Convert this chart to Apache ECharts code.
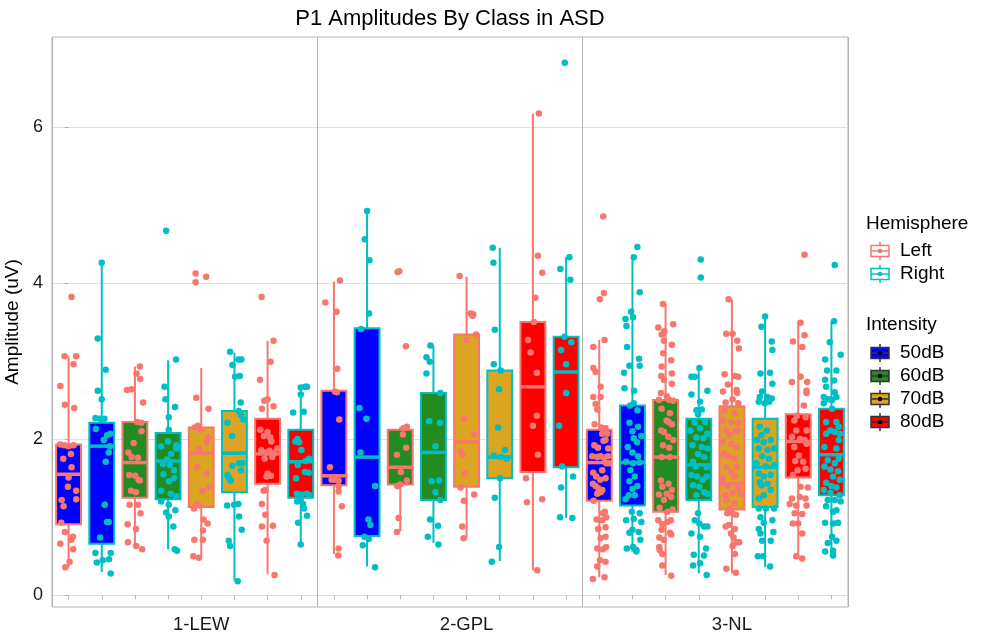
<!DOCTYPE html>
<html lang="en">
<head>
    <meta charset="UTF-8">
    <title>P1 Amplitudes By Class in ASD</title>
    <script type="text/javascript" src="https://cdn.jsdelivr.net/npm/echarts@6/dist/echarts.min.js"></script>
    <style>
        html, body { margin: 0; padding: 0; background: #fff; }
    </style>
</head>
<body>
<div id="box-p1" style="width: 984px;height: 632px"></div>
<script type="text/javascript">
    var classes = ['1-LEW', '2-GPL', '3-NL'];
    var intensities = ['50dB', '60dB', '70dB', '80dB'];
    var hemispheres = ['Left', 'Right'];
    var yTickValues = [0, 2, 4, 6];

    // box stats per class: [lower whisker, Q1, median, Q3, upper whisker]
    // order: 50dB Left, 50dB Right, 60dB Left, 60dB Right, 70dB ..., 80dB ...
    var statsLEW = [
        [0.36, 0.91, 1.55, 1.93, 3.06], [0.30, 0.66, 1.91, 2.21, 4.26],
        [0.61, 1.25, 1.70, 2.22, 2.93], [0.59, 1.23, 1.72, 2.08, 3.01],
        [0.48, 1.13, 1.82, 2.15, 2.91], [0.19, 1.32, 1.82, 2.36, 3.11],
        [0.27, 1.43, 1.81, 2.26, 3.26], [0.65, 1.25, 1.71, 2.12, 2.66]
    ];
    var statsGPL = [
        [0.53, 1.41, 1.53, 2.62, 4.02], [0.37, 0.76, 1.77, 3.42, 4.92],
        [0.82, 1.42, 1.64, 2.12, 2.16], [0.67, 1.22, 1.83, 2.59, 3.20],
        [0.74, 1.39, 1.96, 3.34, 4.08], [0.44, 1.50, 1.77, 2.88, 4.45],
        [0.32, 1.58, 2.67, 3.50, 6.17], [0.99, 1.64, 2.86, 3.31, 4.33]
    ];
    var statsNL = [
        [0.23, 1.21, 1.70, 2.12, 3.27], [0.56, 1.15, 1.70, 2.43, 4.33],
        [0.26, 1.07, 1.77, 2.50, 3.73], [0.28, 1.22, 1.67, 2.26, 2.91],
        [0.28, 1.10, 1.43, 2.42, 3.79], [0.36, 1.13, 1.64, 2.26, 3.57],
        [0.50, 1.51, 1.97, 2.32, 3.50], [0.50, 1.28, 1.80, 2.39, 3.51]
    ];

    // jittered observations per box: [jitter (category units), amplitude]
    var ptsLEW = [
        [[0.09,3.82],[-0.12,3.06],[0.23,3.06],[0.15,2.96],[-0.25,2.68],[-0.11,2.44],[0.17,2.40],[-0.25,1.93],[-0.13,1.92],[0,1.91],[0.15,1.92],[0.07,1.81],[-0.16,1.75],[0.09,1.64],[0,1.51],[-0.02,1.39],[0.23,1.34],[0.23,1.23],[-0.21,1.22],[-0.15,1.14],[-0.22,0.93],[-0.11,0.81],[0.13,0.75],[-0.25,0.66],[0.08,0.71],[0.14,0.59],[0.03,0.43],[-0.1,0.36]],
        [[0,4.26],[-0.12,3.29],[0.12,2.89],[-0.12,2.62],[0,2.51],[-0.19,2.27],[-0.05,2.26],[0.08,2.26],[-0.18,2.13],[0.26,2.07],[0.16,2.05],[0.06,1.99],[0.25,1.91],[0.21,1.83],[0.12,1.71],[0.09,1.16],[0.16,0.94],[0.21,0.94],[-0.05,0.74],[-0.19,0.54],[0.27,0.54],[0.03,0.45],[-0.15,0.42],[0.22,0.46],[0.27,0.28]],
        [[0.15,2.93],[0.05,2.84],[0.16,2.77],[-0.1,2.64],[-0.24,2.63],[0.25,2.47],[0.07,2.22],[0.19,2.21],[0.2,2.10],[-0.04,1.95],[-0.2,1.83],[-0.1,1.77],[0.09,1.76],[-0.17,1.54],[0.01,1.53],[0.11,1.48],[0.15,1.47],[-0.12,1.34],[0.03,1.32],[-0.16,1.16],[0.09,1.16],[0.17,1.05],[-0.22,0.91],[0.03,0.85],[-0.21,0.68],[0.04,0.63],[0.22,0.59]],
        [[-0.06,4.67],[0.24,3.02],[-0.11,2.67],[-0.08,2.51],[0.21,2.41],[0.02,2.28],[0.02,2.12],[-0.21,1.91],[0,1.97],[0.25,1.92],[0.24,1.88],[0.09,1.81],[-0.03,1.74],[-0.16,1.68],[0.05,1.67],[0.18,1.60],[-0.14,1.55],[0.18,1.50],[0.03,1.46],[-0.21,1.34],[0.08,1.30],[0.24,1.27],[-0.21,1.20],[0.02,1.16],[-0.06,1.06],[0.22,1.09],[0.02,1.01],[0.16,0.88],[0.2,0.59],[0.27,0.57]],
        [[-0.17,4.12],[0.15,4.08],[-0.17,4.01],[-0.15,2.53],[0.22,2.39],[-0.2,2.15],[-0.02,2.12],[-0.1,2.17],[0.21,2.02],[0.17,1.96],[-0.06,1.88],[-0.12,1.64],[0.18,1.56],[0.23,1.38],[0.03,1.34],[-0.14,1.17],[-0.22,1.11],[-0.06,1.15],[0.07,0.97],[0.19,0.92],[0.05,0.83],[-0.21,0.71],[0.05,0.71],[-0.24,0.50],[-0.07,0.48]],
        [[-0.13,3.12],[-0.06,2.95],[0.12,3.02],[0.21,3.02],[0.02,2.80],[0.16,2.81],[0.19,2.47],[0.13,2.36],[0.27,2.25],[0.2,2.31],[-0.21,2.21],[-0.07,2.04],[-0.06,1.66],[0.14,1.69],[0.24,1.69],[0.2,1.60],[-0.21,1.54],[-0.16,1.50],[-0.11,1.47],[-0.22,1.15],[-0.01,1.16],[0.12,1.17],[0.14,1.01],[0.22,0.84],[-0.17,0.70],[-0.13,0.63],[0.1,0.18]],
        [[-0.18,3.82],[0.18,3.26],[0.09,2.99],[-0.23,2.76],[-0.1,2.49],[0,2.51],[0.18,2.42],[-0.17,2.39],[-0.22,2.12],[0,2.09],[0.08,2.02],[-0.11,2.04],[0.11,1.97],[-0.19,1.86],[-0.05,1.83],[0.06,1.85],[0.18,1.82],[0.29,1.88],[-0.09,1.75],[0.14,1.77],[0,1.56],[0.1,1.53],[-0.03,1.52],[-0.06,1.35],[-0.12,1.34],[-0.17,1.17],[-0.07,1.03],[0.16,0.89],[-0.17,0.88],[-0.03,0.70],[0.21,0.26]],
        [[0,2.66],[0.13,2.67],[0.19,2.67],[0,2.57],[-0.23,2.34],[0.09,2.35],[-0.1,2.00],[-0.16,1.97],[-0.05,1.96],[0.02,1.86],[0.25,1.75],[0.15,1.72],[-0.09,1.67],[-0.14,1.50],[0.13,1.58],[0.24,1.57],[-0.12,1.30],[0.02,1.29],[0.18,1.30],[0.26,1.28],[-0.11,1.20],[0,1.21],[0.07,1.17],[0.1,1.11],[0.19,1.02],[-0.08,0.93],[0,0.65]]
    ];
    var ptsGPL = [
        [[0.18,4.03],[-0.26,3.75],[0.08,3.63],[0.1,2.90],[0.03,2.61],[0.09,2.60],[0.16,2.25],[-0.12,1.64],[-0.07,1.48],[0.04,1.48],[0.14,1.47],[0.14,1.40],[0.14,1.33],[0.24,1.14],[0.14,0.60],[0.13,0.51]],
        [[0,4.92],[-0.07,4.56],[0.07,4.29],[0.06,3.61],[-0.18,3.41],[-0.23,2.40],[-0.02,2.26],[-0.2,1.83],[0.24,1.40],[0.04,0.97],[0.1,0.90],[-0.08,0.75],[0.05,0.72],[-0.13,0.64],[0.24,0.36]],
        [[-0.08,4.14],[-0.03,4.15],[0.17,3.19],[0.2,2.16],[0.1,2.14],[0.08,2.06],[0.18,1.89],[-0.1,1.80],[0.02,1.58],[0.2,1.47],[-0.09,1.40],[0,1.42],[-0.05,0.99],[-0.1,0.81]],
        [[-0.09,3.20],[-0.21,3.05],[-0.11,2.99],[-0.21,2.84],[0.21,2.59],[-0.13,2.23],[0.2,2.21],[0.06,1.91],[-0.05,1.46],[0.17,1.47],[0.06,1.32],[0.21,1.22],[-0.1,0.97],[0.14,0.89],[-0.17,0.75],[0.15,0.65]],
        [[-0.21,4.09],[0.12,3.61],[0.18,3.58],[0.2,3.60],[0.29,3.34],[0,3.27],[-0.07,2.26],[0.22,2.06],[-0.17,1.84],[-0.13,1.81],[-0.06,1.56],[-0.18,1.38],[-0.08,1.21],[0.23,1.29],[-0.13,0.88],[-0.09,0.73]],
        [[-0.21,4.45],[-0.19,4.26],[-0.15,3.40],[-0.18,2.96],[0.03,2.88],[-0.02,2.64],[-0.05,2.15],[0.16,1.86],[-0.18,1.79],[0.03,1.77],[0.21,1.75],[0.01,1.50],[-0.15,1.25],[-0.02,0.62],[-0.24,0.43]],
        [[0.18,6.17],[0.15,4.35],[0.28,4.13],[0.07,3.81],[0.03,3.50],[-0.15,3.27],[-0.07,3.11],[0.12,2.85],[0.12,2.30],[0,2.17],[0.15,1.80],[-0.21,1.50],[-0.18,1.19],[0.28,1.23],[0.13,0.32]],
        [[-0.04,6.82],[0.1,4.33],[-0.17,4.18],[0.13,4.04],[-0.05,3.31],[0.16,3.24],[-0.15,3.14],[0,2.96],[0,2.59],[-0.21,2.17],[-0.12,1.65],[0.21,1.52],[-0.15,1.38],[-0.18,1.00],[0.19,0.99]]
    ];
    var ptsNL = [
        [[0.12,4.85],[0.02,3.79],[0.14,3.87],[0.16,3.27],[-0.18,3.18],[-0.18,2.91],[-0.11,2.86],[0.04,2.67],[-0.18,2.54],[0.04,2.54],[-0.11,2.45],[-0.06,2.38],[-0.14,2.19],[0.06,2.15],[0.19,2.14],[0.09,2.07],[0.24,2.07],[0.13,1.98],[0.19,1.99],[-0.15,1.92],[-0.04,1.89],[0.27,1.88],[-0.21,1.78],[-0.06,1.77],[0.04,1.78],[0.14,1.76],[0.26,1.78],[0.21,1.69],[0.29,1.69],[0.09,1.60],[-0.18,1.57],[-0.09,1.52],[0.19,1.50],[0.03,1.48],[-0.19,1.43],[-0.11,1.40],[-0.03,1.37],[0.09,1.35],[-0.06,1.30],[0.04,1.32],[-0.17,1.21],[0.17,1.07],[0.11,1.05],[-0.08,0.97],[0.09,0.96],[0.21,1.00],[-0.03,0.85],[0.19,0.87],[0.04,0.73],[0.19,0.75],[-0.06,0.60],[0.11,0.59],[0.21,0.62],[0.02,0.45],[0.19,0.43],[-0.06,0.37],[0.16,0.23],[-0.19,0.21]],
        [[0.15,4.46],[0.04,4.33],[0.22,3.88],[-0.04,3.63],[0.02,3.56],[-0.21,3.54],[-0.18,3.45],[-0.16,3.18],[-0.09,2.94],[0.2,3.03],[0.22,2.94],[-0.25,2.85],[0.05,2.62],[-0.24,2.65],[-0.07,2.43],[0.04,2.46],[0.15,2.37],[-0.09,2.21],[0.17,2.16],[0,2.10],[0.27,2.04],[0.04,2.01],[0.14,1.96],[-0.14,1.90],[0,1.83],[0.17,1.78],[-0.19,1.71],[0.02,1.69],[0.22,1.70],[-0.06,1.60],[0.07,1.52],[-0.09,1.46],[0.15,1.40],[0,1.36],[-0.11,1.28],[0.07,1.28],[-0.21,1.23],[-0.02,1.07],[-0.19,0.96],[0.04,0.98],[0.22,1.05],[0.27,0.94],[0,0.84],[0.19,0.81],[-0.09,0.80],[0.24,0.71],[-0.17,0.60],[0.02,0.62],[0.12,0.58],[0.12,0.56]],
        [[-0.08,3.73],[0.23,3.47],[-0.22,3.43],[-0.04,3.38],[-0.12,3.34],[-0.05,3.26],[0.19,3.21],[-0.07,3.10],[0.17,3.01],[-0.12,2.93],[-0.13,2.81],[0.19,2.84],[-0.05,2.76],[0.19,2.71],[-0.14,2.59],[0.04,2.55],[-0.2,2.50],[0.11,2.50],[0.23,2.49],[-0.12,2.39],[0.13,2.33],[0.03,2.24],[-0.13,2.11],[0.09,2.22],[0.19,2.19],[-0.05,2.09],[0.08,2.03],[0.23,1.99],[-0.08,1.92],[0.11,1.89],[-0.12,1.77],[0.13,1.77],[-0.14,1.47],[0.09,1.43],[-0.1,1.39],[0.19,1.35],[-0.2,1.29],[0.03,1.30],[0.17,1.26],[-0.05,1.22],[-0.18,1.12],[0.06,1.07],[0.21,1.10],[-0.22,0.96],[-0.1,0.91],[0.06,0.94],[0.16,0.96],[-0.12,0.84],[0.13,0.80],[-0.19,0.74],[-0.06,0.71],[0.17,0.78],[-0.19,0.62],[-0.18,0.58],[-0.1,0.53],[-0.1,0.38],[0.17,0.25]],
        [[0.06,4.30],[0.06,4.07],[0.02,2.91],[-0.22,2.80],[-0.12,2.80],[-0.22,2.57],[0.04,2.48],[0.26,2.62],[-0.07,2.37],[0.09,2.38],[-0.02,2.32],[-0.12,2.21],[0.19,2.22],[-0.25,2.11],[0.04,2.14],[0.26,2.07],[-0.07,2.02],[0.14,2.01],[-0.19,1.92],[0.09,1.90],[0.26,1.88],[-0.02,1.81],[0.16,1.77],[-0.17,1.71],[-0.09,1.65],[0.24,1.64],[-0.22,1.54],[-0.05,1.52],[0.12,1.48],[0.24,1.52],[-0.17,1.41],[0.02,1.39],[0.16,1.32],[-0.07,1.28],[0.26,1.30],[-0.02,1.05],[-0.12,0.96],[-0.22,0.79],[0.02,0.92],[0.16,0.88],[0.26,0.88],[0.04,0.75],[0.22,0.60],[-0.15,0.52],[0.16,0.51],[0.04,0.41],[-0.17,0.38],[0.24,0.26]],
        [[-0.1,3.79],[-0.17,3.35],[0.02,3.35],[0.16,3.26],[0.21,3.16],[-0.22,2.83],[0.09,2.81],[0.19,2.80],[-0.12,2.70],[-0.27,2.61],[0.14,2.63],[0.16,2.59],[-0.19,2.47],[0.02,2.51],[0.19,2.46],[-0.22,2.37],[0.09,2.33],[-0.27,2.24],[-0.02,2.22],[0.19,2.21],[-0.17,2.11],[0.09,2.10],[0.19,2.11],[-0.07,2.05],[-0.27,1.97],[-0.02,1.94],[0.14,1.90],[-0.24,1.81],[-0.09,1.78],[0.09,1.75],[-0.17,1.64],[0.16,1.65],[-0.02,1.58],[-0.27,1.50],[0.09,1.52],[-0.12,1.40],[0.19,1.37],[-0.19,1.28],[0.02,1.31],[0.26,1.30],[-0.17,1.22],[0.09,1.18],[-0.07,1.11],[-0.14,1.05],[0.12,1.03],[0.02,1.05],[-0.09,0.90],[0.09,0.85],[-0.19,0.88],[-0.03,0.79],[0.05,0.74],[0.14,0.68],[0.22,0.68],[0.02,0.63],[0.09,0.53],[-0.17,0.34],[0.12,0.29]],
        [[0,3.57],[-0.11,3.44],[0.2,3.25],[0.22,3.14],[-0.14,2.84],[0.15,2.85],[0.22,2.71],[-0.09,2.61],[-0.16,2.54],[0.07,2.54],[-0.19,2.48],[-0.01,2.46],[0.12,2.48],[0.2,2.52],[-0.16,2.16],[0.05,2.11],[-0.11,2.05],[-0.24,1.99],[-0.04,1.96],[0.17,1.99],[-0.19,1.88],[0.07,1.86],[0.27,1.88],[-0.09,1.78],[0.12,1.75],[-0.26,1.69],[0.02,1.65],[0.27,1.67],[-0.19,1.56],[-0.04,1.52],[0.17,1.54],[-0.16,1.45],[0.07,1.43],[-0.11,1.41],[0.17,1.35],[-0.04,1.28],[-0.19,1.24],[-0.19,1.11],[0.02,1.11],[0.27,1.11],[-0.14,1.00],[0.22,0.96],[-0.04,0.93],[-0.19,0.85],[-0.14,0.79],[0.25,0.81],[-0.09,0.70],[0.17,0.70],[-0.22,0.50],[-0.06,0.50],[0.15,0.37]],
        [[0.19,4.36],[0.07,3.49],[0.19,3.33],[-0.16,3.25],[0.12,3.18],[-0.19,2.73],[0.27,2.73],[0.07,2.80],[0.25,2.62],[0.25,2.59],[0.17,2.43],[-0.04,2.30],[0.22,2.28],[-0.12,2.24],[-0.06,2.11],[0.25,2.11],[-0.19,2.03],[0.05,2.00],[0.19,1.99],[-0.12,1.90],[0.25,1.94],[0.02,1.79],[-0.09,1.72],[0.15,1.71],[0.22,1.62],[-0.02,1.60],[-0.16,1.54],[0.07,1.39],[0.29,1.38],[-0.19,1.24],[0.05,1.26],[0.22,1.24],[-0.26,1.17],[-0.06,1.15],[0.25,1.15],[-0.11,1.05],[0.12,1.04],[-0.16,0.92],[0,0.92],[0.12,0.79],[-0.06,0.50],[0.12,0.47]],
        [[0.1,4.23],[0.08,3.51],[-0.05,3.24],[0.28,3.08],[-0.19,3.02],[-0.13,2.88],[0.15,2.88],[-0.19,2.76],[0.08,2.75],[-0.16,2.67],[0.1,2.60],[-0.23,2.54],[-0.09,2.51],[0.02,2.50],[0.15,2.54],[-0.23,2.46],[0.02,2.39],[-0.16,2.22],[0.15,2.22],[0.22,2.16],[-0.03,2.11],[0.1,2.09],[0.25,2.07],[-0.16,2.07],[0.22,1.99],[0.15,1.88],[-0.21,1.90],[-0.11,1.73],[0.1,1.69],[0.22,1.75],[-0.21,1.65],[-0.03,1.61],[0.2,1.59],[0.05,1.52],[0.25,1.48],[-0.16,1.44],[0,1.40],[0.15,1.38],[-0.23,1.35],[-0.03,1.31],[0.25,1.28],[-0.11,1.22],[0.1,1.22],[0.28,1.20],[-0.16,1.14],[0.05,1.07],[0.15,1.09],[-0.19,0.93],[0.05,0.92],[0.2,0.93],[0.02,0.75],[0.15,0.70],[-0.11,0.67],[-0.19,0.56],[0.05,0.57],[0.05,0.51]]
    ];

    var hemiColors = ['#F8766D', '#00BFC4'];
    var intColors = ['#0000FF', '#228B22', '#DAA520', '#FF0000'];
    var fontName = '"Liberation Sans", Arial, sans-serif';

    // one slot per class x intensity x hemisphere
    var allStats = [statsLEW, statsGPL, statsNL];
    var allPts = [ptsLEW, ptsGPL, ptsNL];
    var slots = [];
    var boxData = [];
    var leftPts = [];
    var rightPts = [];
    for (var c = 0; c < classes.length; c++) {
        for (var k = 0; k < 8; k++) {
            var slot = c * 8 + k;
            var ii = Math.floor(k / 2), hh = k % 2;
            var s = allStats[c][k];
            slots.push(classes[c] + ' ' + intensities[ii] + ' ' + hemispheres[hh]);
            boxData.push([slot, s[0], s[1], s[2], s[3], s[4], ii, hh]);
            allPts[c][k].forEach(function (p) {
                (hh ? rightPts : leftPts).push([slot + p[0], p[1]]);
            });
        }
    }

    function renderBox(params, api) {
        var x = api.value(0);
        var lo = api.coord([x, api.value(1)]);
        var q1 = api.coord([x, api.value(2)]);
        var md = api.coord([x, api.value(3)]);
        var q3 = api.coord([x, api.value(4)]);
        var hi = api.coord([x, api.value(5)]);
        var w = api.size([0.75, 0])[0];
        var fill = intColors[api.value(6)];
        var edge = hemiColors[api.value(7)];
        return {
            type: 'group',
            children: [
                {type: 'line', shape: {x1: hi[0], y1: hi[1], x2: q3[0], y2: q3[1]}, style: {stroke: edge, lineWidth: 2}},
                {type: 'line', shape: {x1: q1[0], y1: q1[1], x2: lo[0], y2: lo[1]}, style: {stroke: edge, lineWidth: 2}},
                {type: 'rect', shape: {x: q3[0] - w / 2, y: q3[1], width: w, height: q1[1] - q3[1]},
                    style: {fill: fill, stroke: edge, lineWidth: 2}},
                {type: 'line', shape: {x1: md[0] - w / 2, y1: md[1], x2: md[0] + w / 2, y2: md[1]},
                    style: {stroke: edge, lineWidth: 3.5}}
            ]
        };
    }

    // legend drawn by hand (boxplot key glyphs)
    function keyGlyph(cx, cy, fill, stroke, dot) {
        return {
            type: 'group',
            children: [
                {type: 'line', shape: {x1: cx, y1: cy - 9, x2: cx, y2: cy + 9}, style: {stroke: stroke, lineWidth: 1.5}},
                {type: 'rect', shape: {x: cx - 9, y: cy - 5.5, width: 18, height: 11}, style: {fill: fill, stroke: stroke, lineWidth: 1.5}},
                {type: 'line', shape: {x1: cx - 9, y1: cy, x2: cx + 9, y2: cy}, style: {stroke: stroke, lineWidth: 1.5}},
                {type: 'circle', shape: {cx: cx, cy: cy, r: 2.3}, style: {fill: dot}}
            ]
        };
    }
    var legendGraphics = [];
    legendGraphics.push({type: 'text', x: 866, y: 224,
        style: {text: 'Hemisphere', fill: '#000', fontSize: 19, fontFamily: fontName, verticalAlign: 'middle'}});
    hemispheres.forEach(function (h, i) {
        var y = 251 + i * 23;
        legendGraphics.push(keyGlyph(880, y, '#fff', hemiColors[i], hemiColors[i]));
        legendGraphics.push({type: 'text', x: 900, y: y,
            style: {text: h, fill: '#000', fontSize: 19, fontFamily: fontName, verticalAlign: 'middle'}});
    });
    legendGraphics.push({type: 'text', x: 866, y: 325,
        style: {text: 'Intensity', fill: '#000', fontSize: 19, fontFamily: fontName, verticalAlign: 'middle'}});
    intensities.forEach(function (d, i) {
        var y = 353 + i * 23;
        legendGraphics.push(keyGlyph(880, y, intColors[i], '#333333', '#000'));
        legendGraphics.push({type: 'text', x: 900, y: y,
            style: {text: d, fill: '#000', fontSize: 19, fontFamily: fontName, verticalAlign: 'middle'}});
    });

    var chartDom = document.getElementById('box-p1');
    var myChart = echarts.init(chartDom);
    var option = {
        backgroundColor: '#fff',
        animation: false,
        title: {
            text: 'P1 Amplitudes By Class in ASD',
            left: 445,
            top: 3,
            textAlign: 'center',
            textStyle: {fontSize: 22, fontWeight: 'normal', color: '#000', fontFamily: fontName}
        },
        grid: {
            left: 52, right: 136, top: 37, bottom: 25,
            containLabel: false,
            outerBoundsMode: 'none',
            show: true, borderColor: '#b3b3b3', borderWidth: 1
        },
        xAxis: [
            {
                // one tick per box; class name shown under the fifth box of each panel
                type: 'category',
                data: slots,
                axisLine: {show: false},
                axisTick: {show: true, alignWithLabel: true, interval: 0, length: 4, lineStyle: {color: '#b3b3b3'}},
                axisLabel: {
                    show: true,
                    interval: function (index) { return index % 8 === 4; },
                    formatter: function (value, index) { return classes[Math.floor(index / 8)]; },
                    margin: 8, fontSize: 18.5, color: '#1a1a1a', fontFamily: fontName
                },
                splitLine: {show: false}
            },
            {
                // panel separators
                type: 'category',
                data: classes,
                position: 'bottom',
                axisLine: {show: false},
                axisTick: {show: false},
                axisLabel: {show: false},
                splitLine: {show: true, lineStyle: {color: '#b3b3b3', width: 1}}
            },
            {
                type: 'value',
                min: -0.5,
                max: slots.length - 0.5,
                show: false
            }
        ],
        yAxis: {
            type: 'value',
            min: -0.15,
            max: 7.15,
            splitNumber: 7,
            name: 'Amplitude (uV)',
            nameLocation: 'middle',
            nameGap: 24,
            nameTextStyle: {fontSize: 19, color: '#000', fontFamily: fontName},
            axisLine: {show: false},
            axisTick: {show: true, length: 4, customValues: yTickValues, lineStyle: {color: '#b3b3b3'}},
            axisLabel: {customValues: yTickValues, margin: 9, fontSize: 18, color: '#1a1a1a', fontFamily: fontName},
            splitLine: {lineStyle: {color: '#e0e0e0', width: 1}}
        },
        series: [
            {
                name: 'boxes',
                type: 'custom',
                xAxisIndex: 2,
                renderItem: renderBox,
                encode: {x: 0, y: [1, 2, 3, 4, 5]},
                data: boxData,
                z: 2
            },
            {
                name: hemispheres[0],
                type: 'scatter',
                xAxisIndex: 2,
                symbolSize: 6.5,
                itemStyle: {color: hemiColors[0], opacity: 1},
                data: leftPts,
                z: 3
            },
            {
                name: hemispheres[1],
                type: 'scatter',
                xAxisIndex: 2,
                symbolSize: 6.5,
                itemStyle: {color: hemiColors[1], opacity: 1},
                data: rightPts,
                z: 3
            }
        ],
        graphic: legendGraphics
    };
    option && myChart.setOption(option);
</script>
</body>
</html>
